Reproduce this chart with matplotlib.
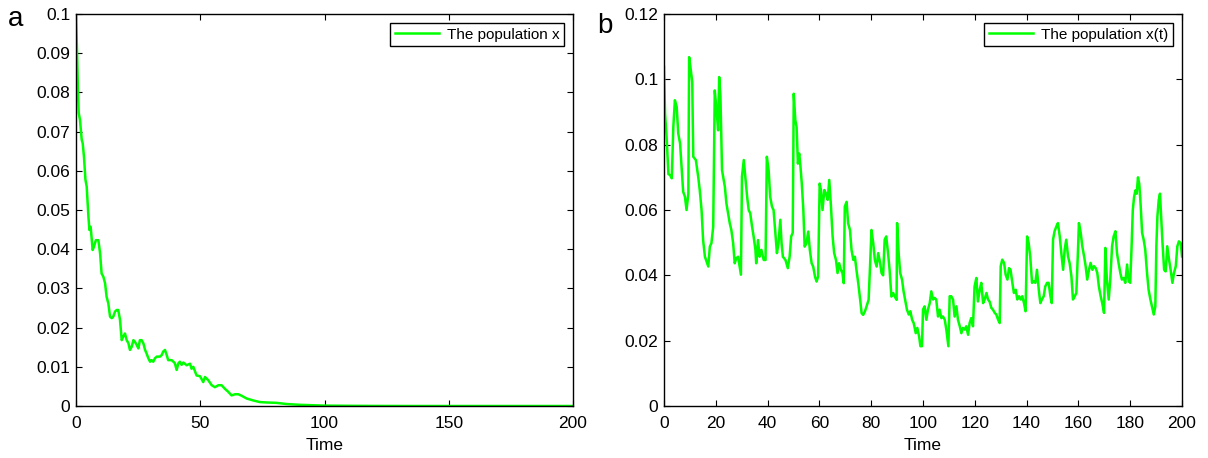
import matplotlib
matplotlib.use("Agg")
import matplotlib.pyplot as plt
import numpy as np

plt.rcParams['font.family'] = ['Liberation Sans', 'DejaVu Sans']

# panel a : population x, decays to zero
t_a = [0, 0.5, 0.8, 1.1, 1.6, 2.3, 2.7, 3.2, 3.8, 4.3, 5.0, 5.4, 5.9, 6.7, 7.2, 8.0, 9.0, 9.7,
       10.3, 11.0, 11.7, 12.3, 13.0, 13.7, 14.4, 15.0, 15.7, 16.4, 17.0, 17.7, 18.4, 19.0, 19.7,
       20.4, 21.1, 21.7, 22.4, 23.1, 23.7, 24.4, 25.1, 25.7, 26.4, 27.1, 27.8, 28.4, 29.1, 29.8,
       30.4, 31.1, 31.8, 32.5, 33.1, 33.8, 34.5, 35.1, 35.8, 36.5, 37.1, 37.8, 38.5, 39.2, 39.8,
       40.5, 41.2, 41.8, 42.5, 43.2, 44.5, 45.9, 46.5, 47.2, 48.5, 49.9, 51.2, 51.9, 53.2, 54.6,
       55.9, 57.3, 58.6, 59.9, 61.3, 62.6, 64.0, 65.3, 66.7, 68.7, 71.4, 74.0, 76.7, 80.7, 84.8,
       90.1, 95, 100, 110, 120, 135, 150, 200]
x_a = [0.1, 0.0883, 0.0798, 0.0747, 0.073, 0.0679, 0.067, 0.0636, 0.0577, 0.056, 0.0483, 0.0449,
       0.0457, 0.0398, 0.0406, 0.0423, 0.0423, 0.0389, 0.0338, 0.033, 0.0313, 0.0279, 0.0262,
       0.0228, 0.0224, 0.0228, 0.0241, 0.0245, 0.0245, 0.022, 0.0168, 0.0177, 0.0185, 0.0168,
       0.016, 0.0143, 0.0151, 0.0168, 0.0164, 0.0156, 0.0147, 0.0168, 0.0168, 0.016, 0.0143,
       0.0134, 0.0122, 0.0113, 0.0117, 0.0113, 0.0122, 0.0126, 0.0126, 0.0126, 0.013, 0.0139,
       0.0143, 0.013, 0.0117, 0.0117, 0.0117, 0.0113, 0.0109, 0.0092, 0.0109, 0.0113, 0.0105,
       0.0111, 0.0104, 0.0108, 0.0095, 0.01, 0.0078, 0.0076, 0.0061, 0.0074, 0.0066, 0.0053,
       0.0048, 0.0053, 0.0053, 0.0044, 0.0036, 0.0027, 0.003, 0.003, 0.0026, 0.0019, 0.0014,
       0.001, 0.0009, 0.0008, 0.0005, 0.0003, 0.0002, 0.0001, 0.00005, 0.00002, 0.0, 0.0, 0.0]

# panel b : population x(t), persists
t_b = [0, 0.4, 1.0, 1.7, 2.3, 3.0, 3.6, 4.2, 4.9, 5.5, 6.2, 6.8, 7.4, 8.1, 8.7, 9.4, 9.7, 10.2,
       10.9, 11.3, 12.3, 13.2, 13.8, 14.5, 15.1, 15.8, 17.1, 17.7, 18.3, 19.0, 19.6, 20.3, 20.9,
       21.3, 21.8, 22.4, 23.5, 24.1, 25.4, 26.0, 26.7, 27.3, 27.9, 28.6, 29.2, 29.7, 30.1, 30.8,
       31.4, 32.1, 32.7, 33.3, 34.0, 34.6, 35.3, 35.6, 36.3, 36.9, 37.6, 38.5, 39.2, 39.7, 40.4,
       41.0, 41.7, 42.3, 42.9, 43.6, 44.2, 44.9, 45.4, 45.9, 46.9, 47.8, 48.5, 49.1, 49.7, 50.1,
       50.7, 51.2, 51.7, 52.2, 52.7, 53.2, 53.8, 54.3, 55.0, 55.7, 56.3, 57.0, 57.6, 58.3, 58.9,
       59.5, 60.1, 60.6, 61.2, 61.9, 62.5, 63.2, 63.8, 64.4, 65.1, 65.7, 66.4, 67.0, 67.6, 68.3,
       68.9, 69.4, 69.8, 70.5, 71.1, 71.8, 72.4, 73.1, 73.7, 74.3, 75.0, 75.6, 76.3, 76.9, 77.6,
       78.2, 79.0, 79.6, 80.1, 80.8, 81.4, 82.1, 82.7, 83.4, 84.0, 84.6, 85.2, 85.8, 86.5, 87.1,
       87.8, 88.5, 89.1, 89.8, 90.0, 90.6, 91.2, 91.9, 92.5, 93.2, 93.8, 94.5, 95.1, 95.8, 96.4,
       97.2, 97.8, 98.5, 99.0, 99.6, 100.0, 100.6, 101.3, 101.9, 102.6, 103.2, 103.9, 104.5,
       105.1, 105.8, 106.4, 107.1, 107.7, 108.4, 109.0, 109.8, 110.3, 110.9, 111.6, 112.2, 112.9,
       113.5, 114.2, 114.8, 115.4, 116.1, 116.7, 117.4, 118.0, 118.6, 119.3, 119.9, 120.6, 121.2,
       121.9, 122.5, 123.2, 123.8, 124.5, 125.1, 125.7, 126.4, 127.0, 127.7, 128.3, 129.0, 129.6,
       130.0, 130.6, 131.3, 131.9, 132.6, 133.2, 133.8, 134.5, 135.1, 135.8, 136.4, 137.1, 137.7,
       138.3, 139.0, 139.6, 140.2, 140.8, 141.4, 142.1, 142.7, 143.4, 144.0, 144.7, 145.3, 145.9,
       146.6, 147.2, 147.9, 148.5, 149.2, 149.7, 150.2, 150.8, 151.5, 152.1, 152.8, 153.4, 154.1,
       154.7, 155.3, 156.0, 156.6, 157.3, 157.9, 158.6, 159.2, 159.8, 160.2, 160.9, 161.5, 162.2,
       162.8, 163.4, 164.1, 164.7, 165.4, 166.0, 166.7, 167.3, 167.9, 168.6, 169.2, 169.9, 170.4,
       171.0, 171.7, 172.3, 173.0, 173.6, 174.3, 174.9, 175.5, 176.2, 176.8, 177.5, 178.1, 178.8,
       179.4, 180.0, 180.5, 181.0, 181.5, 182.0, 182.5, 183.0, 183.5, 184.0, 184.6, 185.2, 185.8,
       186.5, 187.1, 187.8, 188.4, 189.1, 189.7, 190.1, 190.5, 191.0, 191.5, 192.0, 192.4, 193.1,
       193.7, 194.3, 195.0, 195.6, 196.3, 196.9, 197.6, 198.2, 198.8, 199.5, 200.0]
x_b = [0.1038, 0.0895, 0.0824, 0.071, 0.0707, 0.0697, 0.0854, 0.0936, 0.0916, 0.0834, 0.0804,
       0.0732, 0.0656, 0.064, 0.06, 0.065, 0.1068, 0.1038, 0.0992, 0.0763, 0.0753, 0.0702, 0.0661,
       0.06, 0.0508, 0.0457, 0.0427, 0.0488, 0.0498, 0.0549, 0.0966, 0.0905, 0.0844, 0.1007,
       0.0946, 0.0722, 0.0671, 0.062, 0.0559, 0.0539, 0.0498, 0.0437, 0.0452, 0.0457, 0.0427,
       0.0402, 0.0702, 0.0753, 0.0702, 0.064, 0.06, 0.059, 0.0549, 0.0519, 0.0478, 0.0437, 0.0508,
       0.0457, 0.0478, 0.0447, 0.0447, 0.0763, 0.0722, 0.064, 0.061, 0.06, 0.0539, 0.0468, 0.0498,
       0.057, 0.0498, 0.0457, 0.0447, 0.0422, 0.0457, 0.0519, 0.053, 0.0956, 0.0875, 0.0854,
       0.0742, 0.0773, 0.0732, 0.0681, 0.06, 0.0488, 0.0498, 0.0534, 0.0478, 0.0437, 0.0427,
       0.0396, 0.0381, 0.0396, 0.0681, 0.0661, 0.06, 0.0661, 0.0651, 0.0631, 0.0692, 0.062,
       0.0519, 0.0468, 0.0447, 0.0407, 0.0437, 0.0417, 0.0407, 0.0376, 0.061, 0.0625, 0.0559,
       0.0539, 0.0478, 0.0447, 0.0457, 0.0417, 0.0376, 0.0335, 0.0284, 0.0279, 0.029, 0.0305,
       0.0325, 0.0437, 0.0539, 0.0498, 0.0447, 0.0427, 0.0468, 0.044, 0.0407, 0.04, 0.0509,
       0.0519, 0.0468, 0.0417, 0.0335, 0.0346, 0.0335, 0.0325, 0.056, 0.0468, 0.0407, 0.0387,
       0.0351, 0.032, 0.0295, 0.028, 0.029, 0.0264, 0.0254, 0.0223, 0.0239, 0.0213, 0.0183,
       0.0183, 0.0295, 0.0305, 0.0264, 0.0295, 0.0315, 0.0351, 0.0326, 0.0331, 0.0326, 0.0274,
       0.0295, 0.0269, 0.0274, 0.0264, 0.0234, 0.0183, 0.0336, 0.0336, 0.0326, 0.0274, 0.0305,
       0.0264, 0.0244, 0.0223, 0.0239, 0.0234, 0.0244, 0.0218, 0.0254, 0.0269, 0.0244, 0.0366,
       0.0392, 0.032, 0.0356, 0.0377, 0.0315, 0.0326, 0.0346, 0.0326, 0.032, 0.03, 0.0295, 0.0285,
       0.028, 0.0264, 0.0254, 0.0428, 0.0448, 0.0438, 0.0402, 0.0387, 0.0422, 0.0417, 0.0377,
       0.0346, 0.0356, 0.0326, 0.0336, 0.0326, 0.0336, 0.0315, 0.029, 0.0519, 0.0499, 0.0458,
       0.0377, 0.0382, 0.0377, 0.0417, 0.0356, 0.0315, 0.0326, 0.0336, 0.0366, 0.0377, 0.0377,
       0.0336, 0.0315, 0.0509, 0.0535, 0.055, 0.056, 0.0519, 0.0468, 0.0417, 0.0479, 0.0509,
       0.0458, 0.0438, 0.0397, 0.0326, 0.0336, 0.0346, 0.0468, 0.056, 0.053, 0.0489, 0.0458,
       0.0428, 0.0387, 0.0417, 0.0438, 0.0417, 0.0428, 0.0422, 0.0407, 0.0366, 0.0336, 0.0315,
       0.0285, 0.0484, 0.0387, 0.0326, 0.0387, 0.0489, 0.0519, 0.0535, 0.0468, 0.0438, 0.0407,
       0.0387, 0.0392, 0.0377, 0.0433, 0.0382, 0.0377, 0.048, 0.06, 0.064, 0.066, 0.065, 0.07,
       0.068, 0.062, 0.053, 0.0509, 0.0479, 0.0407, 0.0356, 0.0326, 0.0305, 0.028, 0.0305, 0.0489,
       0.058, 0.063, 0.065, 0.057, 0.0509, 0.0417, 0.0412, 0.0489, 0.0448, 0.0417, 0.0377, 0.0407,
       0.0428, 0.0489, 0.0504, 0.0499, 0.0458]

xticks_a = [0, 50, 100, 150, 200]
yticks_a = [0, 0.01, 0.02, 0.03, 0.04, 0.05, 0.06, 0.07, 0.08, 0.09, 0.1]
xticks_b = [0, 20, 40, 60, 80, 100, 120, 140, 160, 180, 200]
yticks_b = [0, 0.02, 0.04, 0.06, 0.08, 0.1, 0.12]

green = '#00ff00'
fs = 12.5

fig = plt.figure(figsize=(12.08, 4.58), dpi=100)
ax1 = fig.add_axes([76/1208, 1-406/458, 497/1208, 392/458])
ax2 = fig.add_axes([664/1208, 1-406/458, 518/1208, 392/458])

def style(ax, xt, yt, ymax):
    ax.set_xlim(0, 200)
    ax.set_ylim(0, ymax)
    ax.set_xticks(xt)
    ax.set_yticks(yt)
    ax.set_xticklabels(['%g' % v for v in xt])
    ax.set_yticklabels(['%g' % v for v in yt])
    ax.tick_params(direction='in', top=True, right=True, length=4, width=0.8,
                   labelsize=fs, colors='black')
    ax.tick_params(axis='x', pad=7)
    ax.tick_params(axis='y', pad=4)
    for s in ax.spines.values():
        s.set_linewidth(1.0)
    ax.set_xlabel('Time', fontsize=fs, labelpad=5)

ax1.plot(t_a, x_a, color=green, lw=1.8, label='The population x')
style(ax1, xticks_a, yticks_a, 0.1)
ax2.plot(t_b, x_b, color=green, lw=1.8, label='The population x(t)')
style(ax2, xticks_b, yticks_b, 0.12)

for ax in (ax1, ax2):
    leg = ax.legend(loc='upper right', fontsize=11, fancybox=False, framealpha=1,
                    edgecolor='black', borderaxespad=0.6, handlelength=2.9,
                    handletextpad=0.5, borderpad=0.3)
    leg.get_frame().set_linewidth(1.0)

fig.text(8/1208, 1-19/458, 'a', fontsize=20, va='center', ha='left')
fig.text(597/1208, 1-26/458, 'b', fontsize=20, va='center', ha='left')

fig.savefig('out.png', dpi=100)
